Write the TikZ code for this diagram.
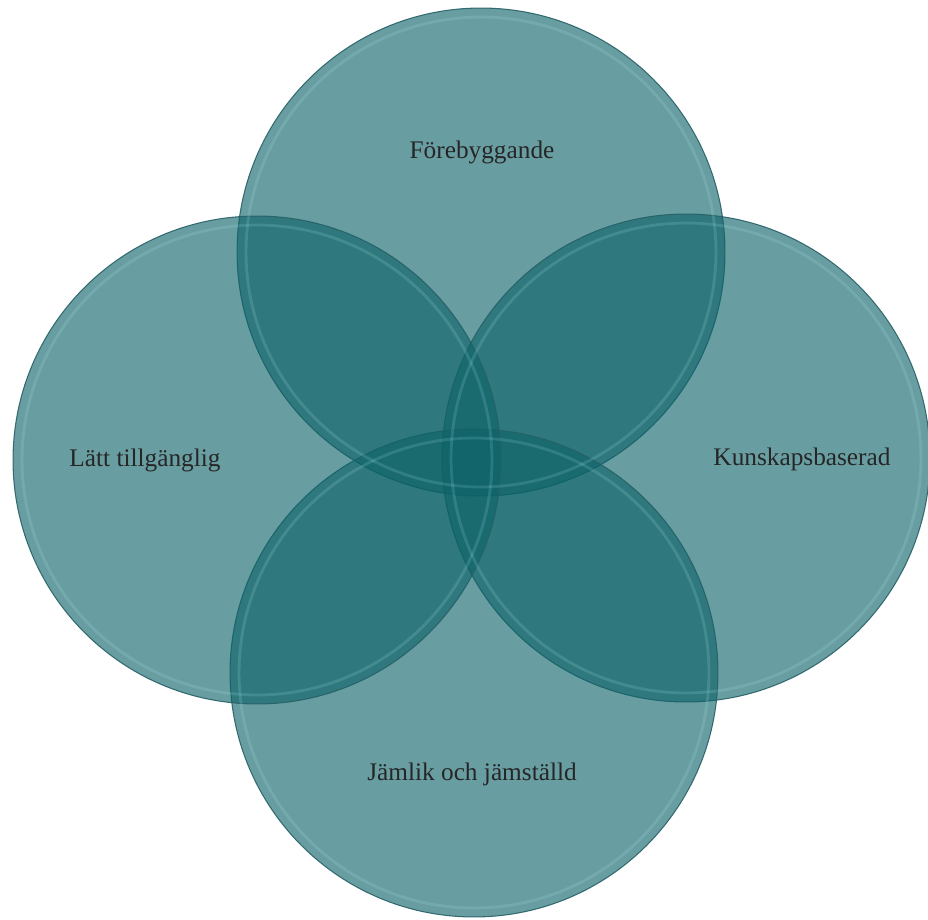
\documentclass[tikz,border=0pt]{standalone}
\usepackage{fontspec}
\setmainfont{Liberation Serif}
\definecolor{vennfill}{RGB}{12,98,104}
\definecolor{vennedge}{RGB}{38,96,102}
\definecolor{vennrim}{RGB}{175,235,240}

\begin{document}
\begin{tikzpicture}[x=0.02cm, y=-0.02cm, line width=0.6pt,
    venn/.style={circle, inner sep=0pt, minimum size=9.76cm, fill=vennfill,
      fill opacity=0.62, draw=vennedge, draw opacity=0.9},
    rim/.style={circle, inner sep=0pt, minimum size=9.40cm, draw=vennrim,
      draw opacity=0.16, line width=1.6pt},
    lbl/.style={font=\fontsize{14.4}{17}\selectfont, text=black!85}]
    \useasboundingbox (0,0) rectangle (928,919);
    % the four circles
    \node[venn] (forebyg) at (481,252) {};
    \node[venn] (kunskap) at (686,458) {};
    \node[venn] (jamlik)  at (474,673) {};
    \node[venn] (tillgang) at (257,460) {};
    % bevel rims
    \node[rim] at (forebyg) {};
    \node[rim] at (kunskap) {};
    \node[rim] at (jamlik) {};
    \node[rim] at (tillgang) {};
    % labels
    \node[lbl] (forebygtxt) at (482,152) {Förebyggande};
    \node[lbl] (kunskaptxt) at (802,459) {Kunskapsbaserad};
    \node[lbl] (jamliktxt) at (472,774) {Jämlik och jämställd};
    \node[lbl] (tillgangtxt) at (145,460) {Lätt tillgänglig};
  \end{tikzpicture}
\end{document}
